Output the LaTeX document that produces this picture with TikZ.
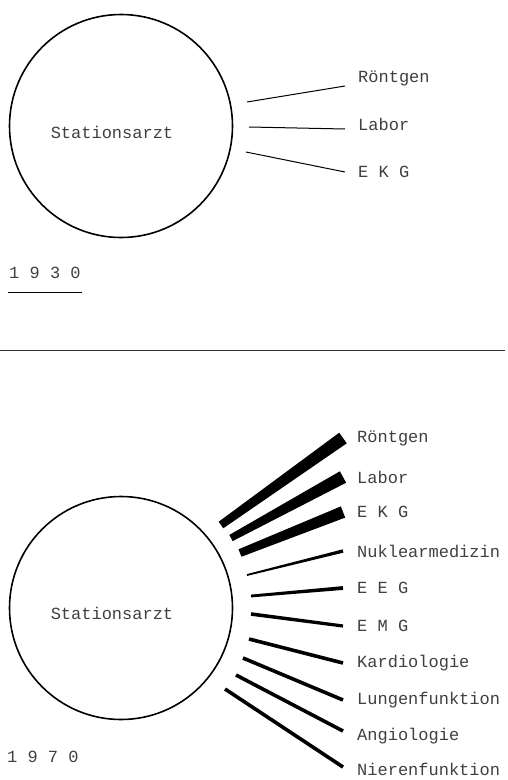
\documentclass[tikz,border=0pt]{standalone}
\usepackage{fontspec}
\setmonofont{Liberation Mono}
\usetikzlibrary{calc,positioning}

\begin{document}
\begin{tikzpicture}[
    x=1pt, y=-1pt,
    hub/.style={circle, draw=black, line width=1.6pt, minimum size=223pt, inner sep=0pt},
    txt/.style={font=\ttfamily\fontsize{17}{20}\selectfont, text=black!75, inner sep=0pt},
    lbl/.style={txt, anchor=west},
    link/.style={draw=black, line width=1pt},
    spoke/.style={fill=black},
    rule/.style={draw=black!80, line width=0.9pt}
]
\useasboundingbox (0,0) rectangle (508,780);

% 1930
\node[hub] (sa1) at (121,126) {};
\node[txt] (sa1t) at (112,132) {Stationsarzt};
\foreach \n/\t/\y/\sx/\sy/\dy in {r/Röntgen/78/247/102/8,
                                  l/Labor/124/249/127/5,
                                  e/E K G/172/246/152/0}{
  \coordinate (ts\n) at (\sx,\sy);
  \node[lbl] (tb\n) at (358,\y) {\t};
  \draw[link] (ts\n) -- ($(tb\n.west)+(-13,\dy)$);
}
\node[txt, anchor=base west] (y1) at (9,278) {1 9 3 0};
\draw[line width=0.8pt] ($(y1.base west)+(-1,14)$) -- ($(y1.base east)+(1,14)$);

% Trennlinie
\coordinate (rl) at (0,350);
\coordinate (rr) at (505,350);
\draw[rule] (rl) -- (rr);

% 1970
\node[hub] (sa2) at (121,608) {};
\node[txt] (sa2t) at (112,613) {Stationsarzt};
\foreach \n/\t/\y/\dy/\sx/\sy/\wa/\wb in {r/Röntgen/438/0/221/525/4/6.5,
                                          l/Labor/477/0/231/538/3.5/6.5,
                                          e/E K G/512/0/240/553/4/6,
                                          n/Nuklearmedizin/551/0/247/575/0.9/1.7,
                                          ee/E E G/588/0/251/596/1.4/1.9,
                                          em/E M G/626/0/251/614/1.8/1.6,
                                          k/Kardiologie/663/0/249/639/1.8/1.8,
                                          lu/Lungenfunktion/700/0/243/658/1.8/1.8,
                                          a/Angiologie/736/-5/236/675/1.8/1.8,
                                          ni/Nierenfunktion/769/-2/225/689/1.8/1.8}{
  \coordinate (s\n) at (\sx,\sy);
  \node[lbl] (b\n) at (357,\y) {\t};
  \coordinate (e\n) at ($(b\n.west)+(-14,\dy)$);
  \fill[spoke] ($(s\n)!\wa pt!90:(e\n)$) -- ($(e\n)!\wb pt!-90:(s\n)$)
     -- ($(e\n)!\wb pt!90:(s\n)$) -- ($(s\n)!\wa pt!-90:(e\n)$) -- cycle;
}
\node[txt, anchor=base west] (y2) at (7,762) {1 9 7 0};
\end{tikzpicture}
\end{document}
